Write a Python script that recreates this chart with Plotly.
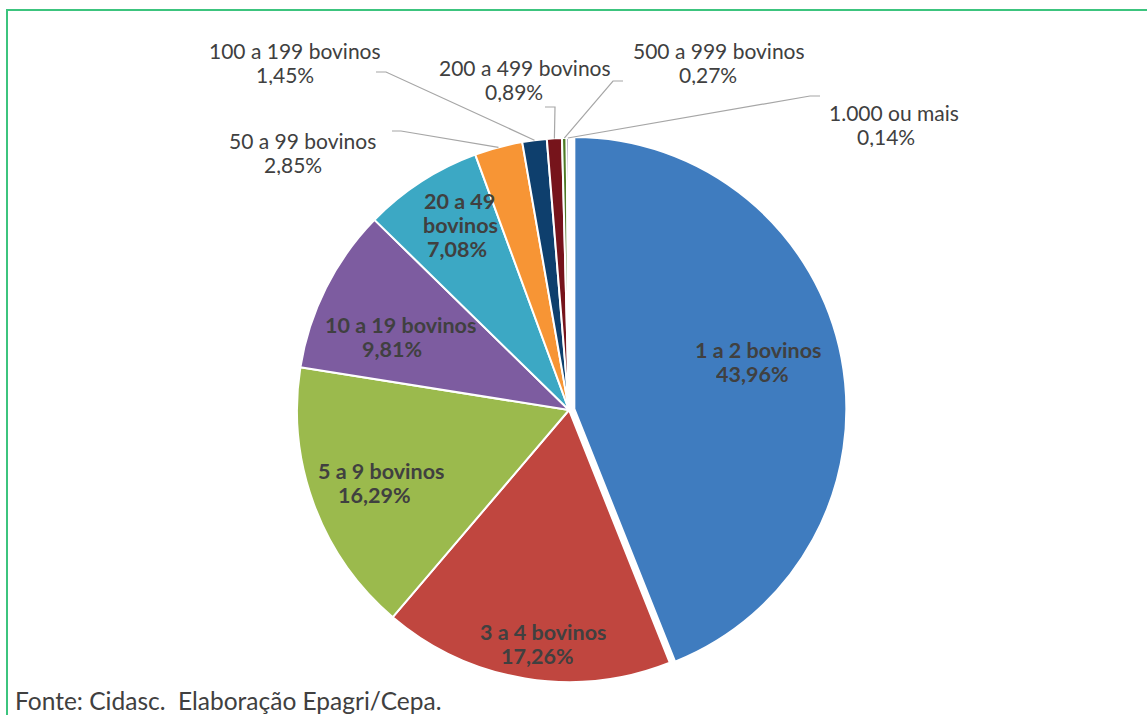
import math
import plotly.graph_objects as go

# Distribuição dos estabelecimentos por faixa de rebanho bovino (%)
categorias = [
    "1 a 2 bovinos", "3 a 4 bovinos", "5 a 9 bovinos", "10 a 19 bovinos",
    "20 a 49 bovinos", "50 a 99 bovinos", "100 a 199 bovinos",
    "200 a 499 bovinos", "500 a 999 bovinos", "1.000 ou mais",
]
percentuais = [43.96, 17.26, 16.29, 9.81, 7.08, 2.85, 1.45, 0.89, 0.27, 0.14]

cores = [
    "#3F7CBF", "#C0463F", "#9BBA4D", "#7D5CA0", "#3CA8C4",
    "#F79535", "#0E3F6D", "#76141B", "#4F7A26", "#3D2C6B",
]

fonte = "Fonte: Cidasc.  Elaboração Epagri/Cepa."

# Geometria da figura (px)
W, H = 1147, 715
CX, CY, R = 569, 410, 272
PULL = 0.02
FONT = "Lato"
TXT = "#404040"
LEADER = "#A6A6A6"

# Fatias com rótulo interno (negrito); as demais têm rótulo externo
n_internos = 5

# Posição (px) de cada linha de texto dos rótulos
pos_linhas = [
    [(758, 350), (752, 374)],
    [(543, 632), (537, 656)],
    [(381, 471), (375, 495)],
    [(400, 325), (392, 349)],
    [(459, 201), (460, 225), (457, 249)],
    [(302, 140), (293, 164)],
    [(295, 50), (285, 74)],
    [(525, 67), (514, 91)],
    [(719, 50), (708, 74)],
    [(894, 112), (886, 136)],
]
# Linhas de chamada: cotovelo (x, y) e fim do trecho horizontal (x)
chamadas = [
    (401, 131, 392),
    (386, 72, 376),
    (555, 107, 545),
    (613, 81, 623),
    (810, 96, 820),
]


def px(x):
    return x / W


def py(y):
    return 1 - y / H


def fmt(v):
    return f"{v:.2f}".replace(".", ",") + "%"


total = sum(percentuais)
angulos = []
acum = 0.0
for v in percentuais:
    angulos.append(360.0 * (acum + v / 2) / total)
    acum += v

half = R * (1 + PULL)
fig = go.Figure(
    go.Pie(
        labels=categorias,
        values=percentuais,
        sort=False,
        direction="clockwise",
        rotation=0,
        pull=[PULL] + [0] * (len(percentuais) - 1),
        marker=dict(colors=cores, line=dict(color="white", width=2)),
        textinfo="none",
        hoverinfo="label+percent",
        showlegend=False,
        domain=dict(x=[px(CX - half), px(CX + half)],
                    y=[py(CY + half), py(CY - half)]),
    )
)

annotations = []
for i, (nome, v) in enumerate(zip(categorias, percentuais)):
    interno = i < n_internos
    if nome.startswith("20 a 49"):
        linhas = ["20 a 49", "bovinos", fmt(v)]
    else:
        linhas = [nome, fmt(v)]
    for texto, (x, y) in zip(linhas, pos_linhas[i]):
        annotations.append(dict(
            x=px(x), y=py(y), xref="paper", yref="paper",
            text=f"<b>{texto}</b>" if interno else texto,
            showarrow=False, xanchor="center", yanchor="middle",
            height=22,
            font=dict(family=FONT, size=21.5 if interno else 21, color=TXT),
        ))

shapes = []
for j, i in enumerate(range(n_internos, len(percentuais))):
    th = math.radians(angulos[i])
    ex = CX + R * math.sin(th)
    ey = CY - R * math.cos(th)
    cx_, cy_, fx = chamadas[j]
    shapes.append(dict(
        type="path", xref="paper", yref="paper",
        path=f"M {px(ex)} {py(ey)} L {px(cx_)} {py(cy_)} L {px(fx)} {py(cy_)}",
        line=dict(color=LEADER, width=1.2),
    ))

annotations.append(dict(
    x=px(13), y=py(700), xref="paper", yref="paper",
    text=fonte, showarrow=False, xanchor="left", yanchor="middle",
    font=dict(family=FONT, size=24.5, color=TXT),
))

shapes.append(dict(
    type="rect", xref="paper", yref="paper",
    x0=px(7), x1=1.02, y0=-0.02, y1=py(10),
    line=dict(color="#3CC47E", width=2), fillcolor="rgba(0,0,0,0)",
    layer="below",
))

fig.update_layout(
    width=W, height=H,
    margin=dict(l=0, r=0, t=0, b=0),
    paper_bgcolor="white",
    plot_bgcolor="white",
    annotations=annotations,
    shapes=shapes,
)

fig.write_html("out.html")
